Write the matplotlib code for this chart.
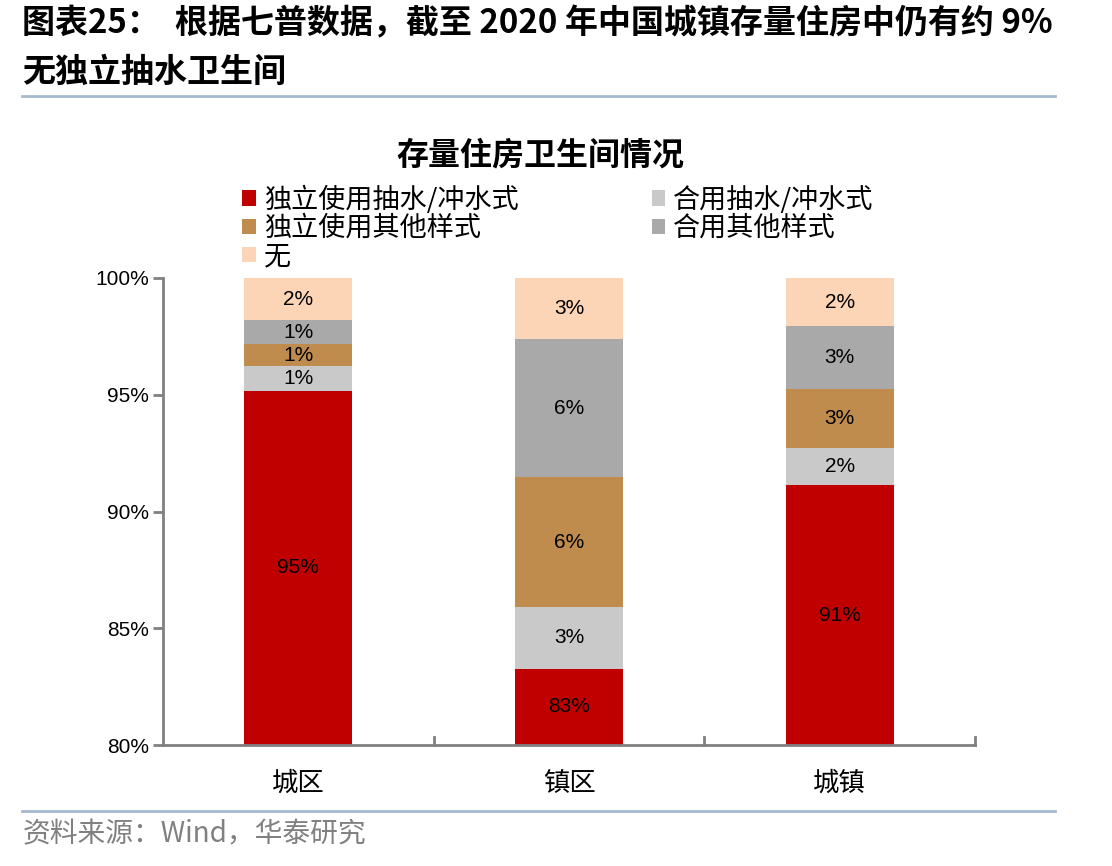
import numpy as np
import matplotlib
matplotlib.use("Agg")
import matplotlib.pyplot as plt
from matplotlib.patches import Patch
from matplotlib.lines import Line2D
from matplotlib.ticker import FuncFormatter

plt.rcParams['font.family'] = ['Noto Sans CJK SC', 'DejaVu Sans']

# ---- data (share of housing stock, %) ----
categories = ["城区", "镇区", "城镇"]
series_names = ["独立使用抽水/冲水式", "合用抽水/冲水式", "独立使用其他样式", "合用其他样式", "无"]
own_flush = [95.18, 83.27, 91.12]
shared_flush = [1.03, 2.63, 1.60]
own_other = [0.95, 5.56, 2.51]
shared_other = [1.03, 5.92, 2.70]
none_ = [1.81, 2.62, 2.07]
values = [own_flush, shared_flush, own_other, shared_other, none_]
colors = ["#C00000", "#C9C9C9", "#BF8C4E", "#A9A9A9", "#FBD5B5"]
y_ticks = [80, 85, 90, 95, 100]

fig = plt.figure(figsize=(11.12, 8.66), dpi=100)
ax = fig.add_axes([0.1466, 0.1397, 0.7302, 0.5393])

x = np.arange(len(categories))
bottom = np.zeros(len(categories))
handles = []
for name, vals, col in zip(series_names, values, colors):
    vals = np.array(vals)
    ax.bar(x, vals, 0.4, bottom=bottom, color=col, linewidth=0, label=name)
    for xi, b, v in zip(x, bottom, vals):
        # first segment starts below the axis floor
        yc = (max(b, 80) + b + v) / 2
        ax.text(xi, yc, f"{v:.0f}%", ha="center", va="center", fontsize=15,
                family=["Liberation Sans", "DejaVu Sans"], color="black")
    bottom += vals
    handles.append(Patch(facecolor=col, label=name))

ax.set_ylim(80, 100)
ax.set_xlim(-0.5, 2.5)
ax.set_yticks(y_ticks)
ax.yaxis.set_major_formatter(FuncFormatter(lambda v, p: f"{v:.0f}%"))
for lbl in ax.get_yticklabels():
    lbl.set_family(["Liberation Sans", "DejaVu Sans"])
ax.tick_params(axis="y", labelsize=15, direction="out", length=7, width=2,
               color="#808080", pad=3)
ax.set_xticks(x)
ax.set_xticklabels(categories, fontsize=19)
ax.tick_params(axis="x", length=0, pad=18)
# boundary ticks pointing up
for xb in [0.5, 1.5, 2.5]:
    ax.plot([xb, xb], [80, 80.35], color="#808080", lw=2, clip_on=False)
for s in ["top", "right"]:
    ax.spines[s].set_visible(False)
for s in ["left", "bottom"]:
    ax.spines[s].set_color("#808080")
    ax.spines[s].set_linewidth(2)

# legend: column-first order
order = [0, 2, 4, 1, 3]
fig.legend([handles[i] for i in order], [series_names[i] for i in order],
           ncol=2, loc="upper left", bbox_to_anchor=(0.218, 0.786),
           frameon=False, fontsize=19.5, handlelength=0.5, handleheight=0.5,
           handletextpad=0.3, columnspacing=4.9, labelspacing=0.05,
           borderaxespad=0, borderpad=0)

fig.text(0.486, 0.821, "存量住房卫生间情况", ha="center", va="center",
         fontsize=23, fontweight="bold")

# header
fig.text(0.02, 0.973, "图表25：  根据七普数据，截至 2020 年中国城镇存量住房中仍有约 9%",
         ha="left", va="center", fontsize=23.8, fontweight="bold")
fig.text(0.02, 0.916, "无独立抽水卫生间", ha="left", va="center",
         fontsize=23.8, fontweight="bold")
fig.add_artist(Line2D([0.02, 0.949], [0.889, 0.889], color="#A7B9CF", lw=2))
fig.add_artist(Line2D([0.02, 0.949], [0.064, 0.064], color="#A7B9CF", lw=2))
fig.text(0.02, 0.036, "资料来源：Wind，华泰研究", ha="left", va="center",
         fontsize=20, color="#808080")

fig.savefig("out.png", dpi=100)
